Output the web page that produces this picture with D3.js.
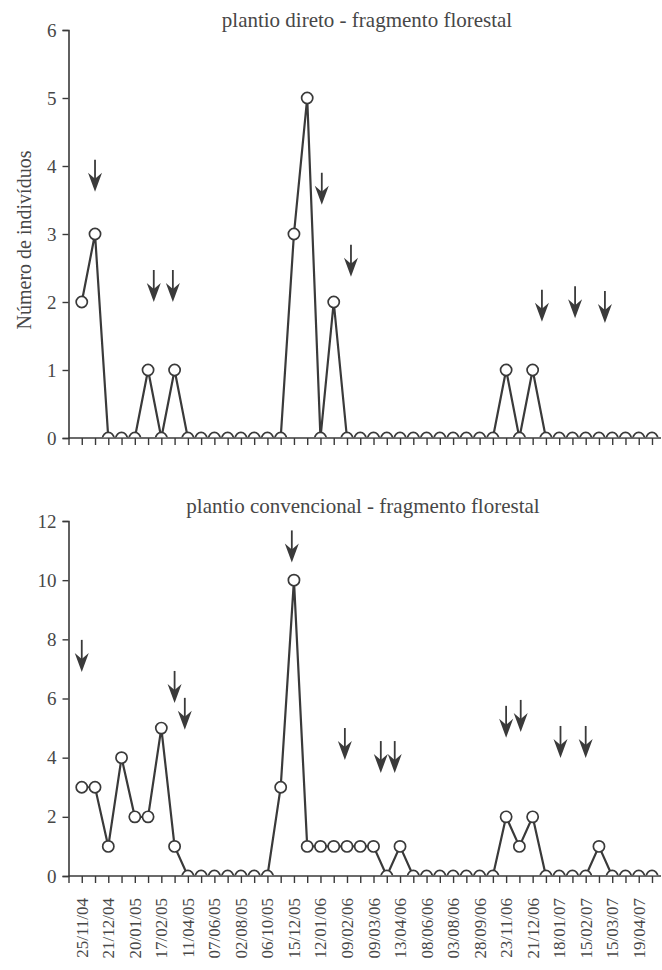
<!DOCTYPE html>
<html>
<head>
<meta charset="utf-8">
<script src="https://cdn.jsdelivr.net/npm/d3@7"></script>
<style>
  body { margin: 0; background: #fff; }
</style>
</head>
<body>
<div id="chart"></div>
<script>
// sampling dates (one per point), labels shown on every other one
var dates = ["25/11/04", "", "21/12/04", "", "20/01/05", "", "17/02/05", "", "11/04/05", "",
  "07/06/05", "", "02/08/05", "", "06/10/05", "", "15/12/05", "", "12/01/06", "",
  "09/02/06", "", "09/03/06", "", "13/04/06", "", "08/06/06", "", "03/08/06", "",
  "28/09/06", "", "23/11/06", "", "21/12/06", "", "18/01/07", "", "15/02/07", "",
  "15/03/07", "", "19/04/07", ""];

var direto = [2, 3, 0, 0, 0, 1, 0, 1, 0, 0, 0, 0, 0, 0, 0, 0, 3, 5, 0, 2, 0, 0,
  0, 0, 0, 0, 0, 0, 0, 0, 0, 0, 1, 0, 1, 0, 0, 0, 0, 0, 0, 0, 0, 0];

var convencional = [3, 3, 1, 4, 2, 2, 5, 1, 0, 0, 0, 0, 0, 0, 0, 3, 10, 1, 1, 1, 1, 1,
  1, 0, 1, 0, 0, 0, 0, 0, 0, 0, 2, 1, 2, 0, 0, 0, 0, 1, 0, 0, 0, 0];

// arrows: position (sample index) and the value their tip points at
var arrowsDireto = [[1, 3.62], [5.43, 2.0], [6.87, 2.0], [18.1, 3.43], [20.3, 2.37],
  [34.7, 1.71], [37.2, 1.76], [39.45, 1.69]];
var arrowsConvencional = [[0, 6.9], [7.0, 5.85], [7.77, 4.94], [15.84, 10.6], [19.84, 3.92],
  [22.55, 3.48], [23.6, 3.48], [32.0, 4.67], [33.1, 4.87], [36.1, 3.99], [38.0, 3.99]];

var width = 662,
    height = 970;

var ink = "#3a3a3a",
    textInk = "#474747",
    serif = "'Liberation Serif', 'Times New Roman', Times, serif";

var svg = d3.select("#chart").append("svg")
    .attr("width", width)
    .attr("height", height)
    .style("font-family", serif);

// x is the sample index; the y axis sits one step before the first sample
var x = d3.scaleLinear()
    .domain([-1, 43])
    .range([68.5, 652]);

function drawPanel(opts) {
  var y = d3.scaleLinear()
      .domain([0, opts.max])
      .range([opts.bottom, opts.top]);

  var g = svg.append("g");

  // y axis
  var yAxis = g.append("g")
      .attr("transform", "translate(" + x(-1) + ",0)")
      .call(d3.axisLeft(y).tickValues(opts.ticks).tickSize(6).tickPadding(6).tickFormat(d3.format("d")));
  yAxis.attr("font-family", null).attr("font-size", null);
  yAxis.select(".domain").attr("stroke", ink).attr("stroke-width", 1.6);
  yAxis.selectAll(".tick line").attr("stroke", ink).attr("stroke-width", 1.4);
  yAxis.selectAll(".tick text")
      .style("font-family", serif)
      .style("font-size", "19px")
      .attr("fill", textInk);

  // x axis: a tick under every sample
  var xAxis = g.append("g")
      .attr("transform", "translate(0," + opts.bottom + ")")
      .call(d3.axisBottom(x).tickValues(d3.range(-1, 44)).tickSize(7).tickFormat(""));
  xAxis.select(".domain").attr("d", "M" + x(-1) + ",0H" + (width - 1))
      .attr("stroke", ink).attr("stroke-width", 1.6);
  xAxis.selectAll(".tick line").attr("stroke", ink).attr("stroke-width", 1.4);

  // title
  g.append("text")
      .attr("x", opts.titleX)
      .attr("y", opts.titleY)
      .attr("text-anchor", "middle")
      .attr("fill", textInk)
      .style("font-family", serif)
      .style("font-size", "21px")
      .text(opts.title);

  // clip so the zero markers show only their upper half
  var clipId = "clip-" + opts.key;
  svg.append("clipPath").attr("id", clipId)
    .append("rect")
      .attr("x", 0).attr("y", 0)
      .attr("width", width).attr("height", opts.bottom - 0.8);

  var line = d3.line()
      .x(function(d, i) { return x(i); })
      .y(function(d) { return y(d); });

  var plot = g.append("g").attr("clip-path", "url(#" + clipId + ")");

  plot.append("path")
      .datum(opts.values)
      .attr("d", line)
      .attr("fill", "none")
      .attr("stroke", ink)
      .attr("stroke-width", 2.2)
      .attr("stroke-linejoin", "miter");

  plot.selectAll(".pt")
      .data(opts.values)
      .enter().append("circle")
      .attr("class", "pt")
      .attr("cx", function(d, i) { return x(i); })
      .attr("cy", function(d) { return y(d); })
      .attr("r", 5.6)
      .attr("fill", "#fff")
      .attr("stroke", ink)
      .attr("stroke-width", 1.7);

  // arrows
  var arrow = g.selectAll(".arrow")
      .data(opts.arrows)
      .enter().append("g")
      .attr("class", "arrow")
      .attr("transform", function(d) { return "translate(" + x(d[0]) + "," + y(d[1]) + ")"; });

  arrow.append("line")
      .attr("x1", 0).attr("x2", 0)
      .attr("y1", -32).attr("y2", -10)
      .attr("stroke", ink)
      .attr("stroke-width", 1.8);

  arrow.append("path")
      .attr("d", "M0,0L-7,-19L0,-13L7,-19Z")
      .attr("fill", ink);
}

drawPanel({
  key: "direto",
  title: "plantio direto - fragmento florestal",
  titleX: 367,
  titleY: 27,
  values: direto,
  arrows: arrowsDireto,
  max: 6,
  ticks: [0, 1, 2, 3, 4, 5, 6],
  top: 30,
  bottom: 438
});

drawPanel({
  key: "convencional",
  title: "plantio convencional - fragmento florestal",
  titleX: 363,
  titleY: 513,
  values: convencional,
  arrows: arrowsConvencional,
  max: 12,
  ticks: [0, 2, 4, 6, 8, 10, 12],
  top: 521,
  bottom: 876
});

// y axis title (top panel only)
svg.append("text")
    .attr("transform", "translate(31,240) rotate(-90)")
    .attr("text-anchor", "middle")
    .attr("fill", textInk)
    .style("font-family", serif)
    .style("font-size", "20px")
    .text("Número de indivíduos");

// date labels under the bottom panel
svg.selectAll(".date")
    .data(dates)
    .enter().append("text")
    .attr("class", "date")
    .attr("transform", function(d, i) { return "translate(" + (x(i) + 6) + ",898) rotate(-90)"; })
    .attr("text-anchor", "end")
    .attr("fill", textInk)
    .style("font-family", serif)
    .style("font-size", "17px")
    .text(function(d) { return d; });
</script>
</body>
</html>
